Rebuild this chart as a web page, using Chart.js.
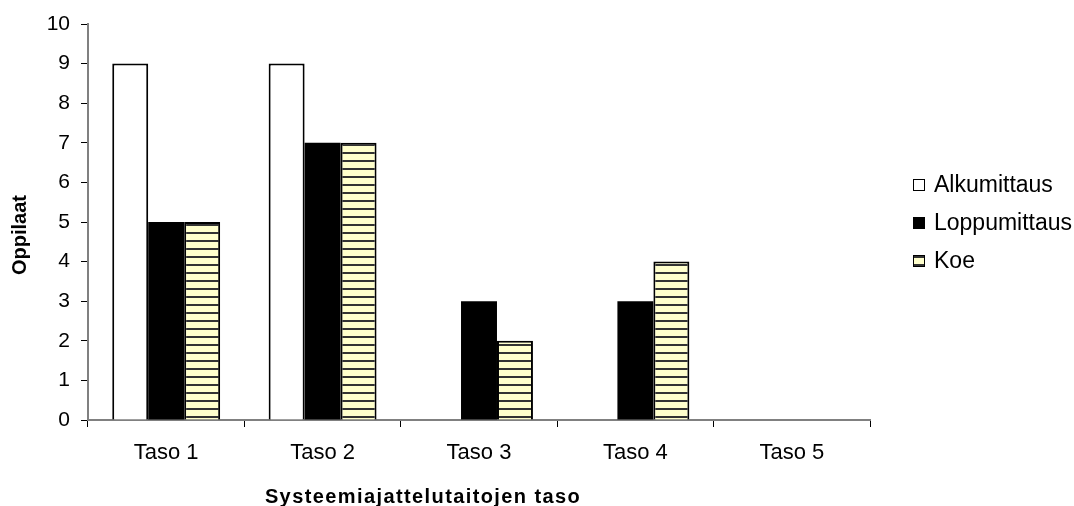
<!DOCTYPE html>
<html>
<head>
<meta charset="utf-8">
<script src="https://cdn.jsdelivr.net/npm/chart.js@4/dist/chart.umd.min.js"></script>
<style>
  html, body { margin: 0; padding: 0; background: #fff; }
  #wrap { width: 1074px; height: 506px; }
</style>
</head>
<body>
<div id="wrap"><canvas id="c" width="1074" height="506"></canvas></div>
<script>
const categories = ['Taso 1', 'Taso 2', 'Taso 3', 'Taso 4', 'Taso 5'];
const alkumittaus = [9, 9, 0, 0, 0];
const loppumittaus = [5, 7, 3, 3, 0];
const koe = [5, 7, 2, 4, 0];
const yTicks = [0, 1, 2, 3, 4, 5, 6, 7, 8, 9, 10];
const xTitle = 'Systeemiajattelutaitojen taso';
const yTitle = 'Oppilaat';

const FONT = "'Liberation Sans', Arial, sans-serif";

// Horizontal stripe fill for the "Koe" series
function stripePattern(ctx) {
  const p = document.createElement('canvas');
  p.width = 8; p.height = 8;
  const g = p.getContext('2d');
  g.fillStyle = '#FFFFCC';
  g.fillRect(0, 0, 8, 8);
  g.fillStyle = '#333333';
  g.fillRect(0, 0, 8, 2);
  return ctx.createPattern(p, 'repeat');
}

const canvas = document.getElementById('c');
const ctx = canvas.getContext('2d');
const stripes = stripePattern(ctx);

// Legend at the right side (boxes plus labels) and the two axis titles
const decorations = {
  id: 'decorations',
  afterDraw(chart) {
    const c = chart.ctx;
    const items = chart.data.datasets;
    const x0 = 913, ys = [185, 223, 261], box = 12;
    c.save();
    c.font = '23px ' + FONT;
    c.textBaseline = 'middle';
    c.textAlign = 'left';
    items.forEach((ds, i) => {
      const y = ys[i];
      c.fillStyle = ds.legendFill;
      c.fillRect(x0, y - box / 2, box, box);
      c.lineWidth = 1;
      c.strokeStyle = '#000';
      c.strokeRect(x0 + 0.5, y - box / 2 + 0.5, box - 1, box - 1);
      c.fillStyle = '#000';
      c.fillText(ds.label, x0 + 21, y + 1);
    });

    c.font = 'bold 20px ' + FONT;
    c.textAlign = 'center';
    c.save();
    c.translate(20, 235);
    c.rotate(-Math.PI / 2);
    c.fillText(yTitle, 0, 0);
    c.restore();

    c.letterSpacing = '1.4px';
    c.fillText(xTitle, 423, 497);
    c.restore();
  }
};

new Chart(ctx, {
  type: 'bar',
  data: {
    labels: categories,
    datasets: [
      { label: 'Alkumittaus', data: alkumittaus, backgroundColor: '#FFFFFF',
        borderColor: '#000000', borderWidth: 2, borderSkipped: 'bottom', legendFill: '#FFFFFF' },
      { label: 'Loppumittaus', data: loppumittaus, backgroundColor: '#000000',
        borderColor: '#000000', borderWidth: 0, legendFill: '#000000' },
      { label: 'Koe', data: koe, backgroundColor: stripes,
        borderColor: '#000000', borderWidth: 2, borderSkipped: 'bottom', legendFill: stripes }
    ]
  },
  options: {
    responsive: false,
    animation: false,
    layout: { padding: { left: 0, right: 204, top: 24, bottom: 0 } },
    plugins: {
      legend: { display: false },
      tooltip: { enabled: false }
    },
    datasets: { bar: { categoryPercentage: 0.69, barPercentage: 1.0 } },
    scales: {
      x: {
        offset: true,
        grid: { display: true, drawOnChartArea: false, drawTicks: true, tickLength: 7,
                color: '#000', offset: true },
        border: { display: true, color: '#808080', width: 2 },
        ticks: { color: '#000', font: { family: FONT, size: 22 }, padding: 13 },
        title: { display: false },
        afterFit(s) { s.height = 86; }
      },
      y: {
        min: 0, max: 10,
        afterBuildTicks(s) { s.ticks = yTicks.map(v => ({ value: v })); },
        grid: { display: true, drawOnChartArea: false, drawTicks: true, tickLength: 7, color: '#000' },
        border: { display: true, color: '#808080', width: 2 },
        ticks: { color: '#000', font: { family: FONT, size: 21 }, padding: 11 },
        title: { display: false },
        afterFit(s) { s.width = 88; }
      }
    }
  },
  plugins: [decorations]
});
</script>
</body>
</html>
